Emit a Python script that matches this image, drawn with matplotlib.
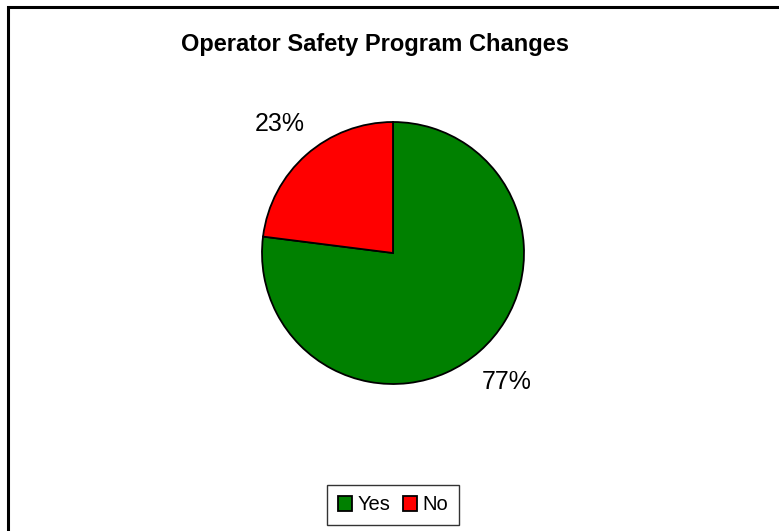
import matplotlib
matplotlib.use("Agg")
import matplotlib.pyplot as plt
from matplotlib.patches import Rectangle

plt.rcParams['font.family'] = ['Liberation Sans', 'DejaVu Sans']

categories = ['Yes', 'No']
shares = [77, 23]
colors = ['#008000', '#FF0000']

W, H = 779, 531
fig = plt.figure(figsize=(W / 100, H / 100), dpi=100)

# outer chart frame (right and bottom edges are cut off in the original)
fig.patches.append(Rectangle((7.5 / W, -0.1), 1.2, 1.1 - 6.5 / H, transform=fig.transFigure,
                             fill=False, edgecolor='black', linewidth=2.2))

cx, cy, r = 393, 253, 131
ax = fig.add_axes([(cx - r) / W, (H - cy - r) / H, 2 * r / W, 2 * r / H])

wedges, texts, autotexts = ax.pie(shares, colors=colors, startangle=90, counterclock=False,
                                  autopct='%1.0f%%', pctdistance=1.31,
                                  wedgeprops=dict(edgecolor='black', linewidth=1.3))
for t in autotexts:
    t.set_fontsize(18)
ax.set_xlim(-1, 1)
ax.set_ylim(-1, 1)
ax.set_aspect('equal')

fig.text(375 / W, 1 - 45 / H, 'Operator Safety Program Changes', ha='center', va='center',
         fontsize=17, fontweight='bold')

leg = fig.legend(wedges, categories, loc='center', bbox_to_anchor=(393 / W, 1 - 505 / H),
                 ncol=2, fancybox=False, edgecolor='black', fontsize=14.5,
                 handlelength=0.7, handleheight=0.7, handletextpad=0.3, columnspacing=0.6,
                 borderpad=0.5)
leg.get_frame().set_linewidth(1.0)

fig.savefig('out.png', dpi=100)
